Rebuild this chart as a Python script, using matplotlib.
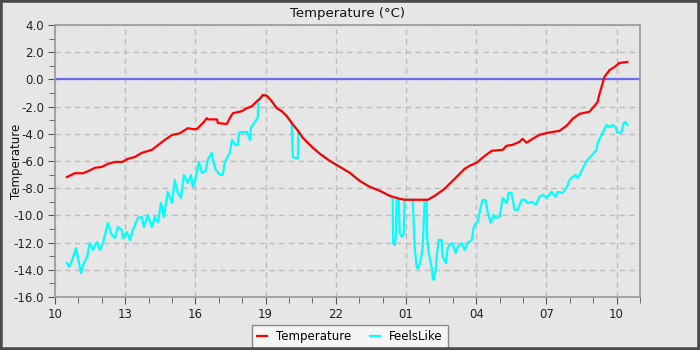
import matplotlib
matplotlib.use("Agg")
import matplotlib.pyplot as plt
from matplotlib.patches import Rectangle
from matplotlib.ticker import MultipleLocator, FixedLocator

# hours since 10:00 on day 1
temp_hours = [0.51, 0.85, 1.20, 1.41, 1.71, 2.01, 2.26, 2.56, 2.86, 3.12, 3.42, 3.71, 4.14,
              4.70, 5.00, 5.34, 5.47, 5.68, 5.89, 6.06, 6.19, 6.32, 6.49, 6.53, 6.92, 6.96,
              7.34, 7.47, 7.60, 7.98, 8.20, 8.41, 8.63, 8.75, 8.88, 9.05, 9.26, 9.48, 9.69,
              9.91, 10.12, 10.33, 10.59, 10.80, 11.02, 11.32, 11.74, 12.17, 12.60, 13.02,
              13.45, 13.88, 14.30, 14.73, 14.94, 15.93, 16.23, 16.65, 17.08, 17.51, 17.72,
              18.02, 18.27, 18.49, 18.66, 19.13, 19.30, 19.56, 19.85, 19.98, 20.15, 20.41,
              20.71, 21.05, 21.56, 21.86, 22.12, 22.42, 22.84, 23.06, 23.19, 23.27, 23.48,
              23.70, 23.91, 24.12, 24.46]
temp_values = [-7.18, -6.90, -6.90, -6.75, -6.50, -6.43, -6.21, -6.07, -6.07, -5.84, -5.70,
               -5.40, -5.18, -4.44, -4.09, -3.96, -3.81, -3.59, -3.66, -3.66, -3.43, -3.21,
               -2.85, -2.94, -2.94, -3.21, -3.28, -2.85, -2.49, -2.34, -2.12, -1.97, -1.60,
               -1.45, -1.15, -1.20, -1.60, -2.12, -2.34, -2.71, -3.21, -3.66, -4.29, -4.66,
               -5.03, -5.47, -5.99, -6.43, -6.87, -7.46, -7.90, -8.19, -8.56, -8.78, -8.85,
               -8.85, -8.56, -8.04, -7.31, -6.57, -6.35, -6.13, -5.76, -5.47, -5.25, -5.18,
               -4.88, -4.81, -4.59, -4.37, -4.66, -4.37, -4.07, -3.93, -3.78, -3.41, -2.90,
               -2.53, -2.38, -1.94, -1.65, -1.06, 0.18, 0.69, 0.91, 1.21, 1.28]

feels_hours = [0.51, 0.60, 0.73, 0.90, 0.94, 1.11, 1.20, 1.37, 1.49, 1.62, 1.79, 1.92, 2.05,
               2.26, 2.43, 2.56, 2.69, 2.86, 2.90, 3.07, 3.20, 3.33, 3.54, 3.71, 3.80, 3.97,
               4.14, 4.27, 4.40, 4.53, 4.65, 4.82, 5.00, 5.12, 5.25, 5.38, 5.51, 5.68, 5.81,
               5.89, 5.98, 6.15, 6.28, 6.40, 6.45, 6.53, 6.70, 6.75, 6.87, 7.05, 7.17, 7.26,
               7.47, 7.56, 7.69, 7.81, 7.86, 8.03, 8.20, 8.33, 8.37, 8.54, 8.67, 8.69, 8.75,
               8.88, 9.05, 9.26, 9.48, 9.69, 9.91, 10.10, 10.12, 10.16, 10.29, 10.38, 10.40,
               10.59, 10.80, 11.02, 11.32, 11.74, 12.17, 12.60, 13.02, 13.45, 13.88, 14.30,
               14.43, 14.45, 14.52, 14.56, 14.60, 14.69, 14.73, 14.82, 14.90, 14.94, 15.29,
               15.37, 15.46, 15.54, 15.63, 15.71, 15.80, 15.88, 15.90, 15.97, 16.10, 16.14,
               16.18, 16.27, 16.31, 16.40, 16.52, 16.57, 16.70, 16.78, 16.87, 16.99, 17.12,
               17.21, 17.38, 17.51, 17.63, 17.81, 17.89, 17.98, 18.06, 18.15, 18.27, 18.40,
               18.49, 18.62, 18.74, 18.83, 19.00, 19.13, 19.30, 19.39, 19.51, 19.64, 19.77,
               19.94, 20.07, 20.20, 20.41, 20.54, 20.71, 20.84, 21.01, 21.22, 21.39, 21.48,
               21.69, 21.86, 21.99, 22.12, 22.25, 22.33, 22.42, 22.63, 22.76, 22.97, 23.14,
               23.19, 23.31, 23.40, 23.53, 23.57, 23.70, 23.83, 23.95, 24.04, 24.21, 24.30,
               24.38, 24.47]
feels_values = [-13.50, -13.79, -13.28, -12.40, -12.76, -14.24, -13.65, -13.06, -12.03, -12.54,
                -11.96, -12.54, -12.03, -10.56, -11.44, -11.66, -10.85, -11.07, -11.66, -11.22,
                -11.81, -11.07, -10.19, -10.12, -10.85, -9.97, -10.85, -10.12, -10.49, -9.09,
                -10.12, -8.27, -9.09, -7.40, -8.35, -8.71, -7.03, -7.62, -7.03, -7.91, -7.54,
                -6.06, -6.87, -6.79, -6.65, -5.91, -5.40, -5.91, -6.65, -7.01, -7.01, -6.06,
                -5.40, -4.44, -4.81, -4.81, -3.93, -3.87, -3.87, -4.46, -3.57, -3.13, -2.77,
                -1.45, -1.45, -1.15, -1.20, -1.60, -2.12, -2.34, -2.71, -3.15, -3.35, -5.71,
                -5.78, -5.78, -3.72, -4.29, -4.66, -5.03, -5.47, -5.99, -6.43, -6.87, -7.46,
                -7.90, -8.19, -8.56, -8.70, -12.03, -12.18, -11.66, -8.78, -8.78, -11.28,
                -11.57, -11.44, -8.85, -8.85, -12.32, -13.85, -13.85, -13.28, -12.40, -8.85,
                -8.85, -11.57, -12.76, -13.85, -14.51, -14.74, -14.00, -13.06, -11.81, -11.81,
                -13.06, -13.50, -12.40, -12.18, -12.03, -12.76, -12.32, -12.03, -12.54, -12.03,
                -11.81, -10.93, -10.56, -10.49, -9.75, -8.87, -8.87, -9.75, -10.56, -9.97,
                -10.19, -10.12, -8.71, -9.09, -8.35, -8.35, -9.59, -9.59, -8.85, -8.85, -9.09,
                -9.01, -9.22, -8.63, -8.49, -8.71, -8.27, -8.63, -8.27, -8.35, -7.98, -7.40,
                -7.18, -7.03, -7.25, -7.03, -6.29, -5.91, -5.54, -5.18, -4.68, -4.24, -3.94,
                -3.50, -3.35, -3.50, -3.35, -3.50, -3.94, -3.87, -3.21, -3.13, -3.35]

x_tick_pos = [0, 3, 6, 9, 12, 15, 18, 21, 24]
x_tick_labels = ["10", "13", "16", "19", "22", "01", "04", "07", "10"]
reference_level = 0.0

bg = "#e6e6e6"
fig = plt.figure(figsize=(7, 3.5), dpi=100, facecolor=bg)
ax = fig.add_axes([55 / 700, 1 - 297 / 350, 585 / 700, 272 / 350])
ax.set_facecolor(bg)

ax.axhline(reference_level, color="#6b6bf0", lw=1.6, zorder=2)
l2, = ax.plot(feels_hours, feels_values, color="#00ffff", lw=1.6, zorder=3,
              label="FeelsLike")
l1, = ax.plot(temp_hours, temp_values, color="#ff0000", lw=1.6, zorder=4,
              label="Temperature")

ax.set_xlim(0, 25)
ax.set_ylim(-16, 4)
ax.xaxis.set_major_locator(FixedLocator(x_tick_pos))
ax.set_xticklabels(x_tick_labels)
ax.xaxis.set_minor_locator(MultipleLocator(1))
ax.yaxis.set_major_locator(MultipleLocator(2))
ax.yaxis.set_minor_locator(MultipleLocator(1))
ax.yaxis.set_major_formatter(matplotlib.ticker.FormatStrFormatter("%.1f"))
ax.tick_params(which="both", direction="out", color="#555555", labelsize=8.5,
               labelcolor="#222222", pad=3)
ax.tick_params(which="major", length=5)
ax.tick_params(which="minor", length=4)
ax.grid(True, which="major", color="#bdbdbd", linestyle=(0, (4, 3)), lw=1)
ax.set_axisbelow(True)
for s in ax.spines.values():
    s.set_color("#999999")
    s.set_linewidth(1.2)

ax.set_title("Temperature (°C)", fontsize=9.5, pad=6, color="#111111")
ax.set_ylabel("Temperature", fontsize=8.5, color="#111111")
ax.yaxis.set_label_coords((23 - 55) / 585, 0.5)

leg = fig.legend(handles=[l1, l2], loc="lower center", bbox_to_anchor=(0.5, -0.012),
                 ncol=2, fontsize=8.5, frameon=True, fancybox=False, handlelength=0.8,
                 columnspacing=1.6, borderpad=0.45, handletextpad=0.8)
leg.get_frame().set_facecolor("#f5f5f5")
leg.get_frame().set_edgecolor("#888888")
leg.get_frame().set_alpha(1)
leg.get_frame().set_linewidth(1.0)

fig.patches.append(Rectangle((0, 0), 1, 1, transform=fig.transFigure, fill=False,
                             edgecolor="#4a4a4a", lw=4, zorder=10))
fig.savefig("out.png", dpi=100, facecolor=bg)
